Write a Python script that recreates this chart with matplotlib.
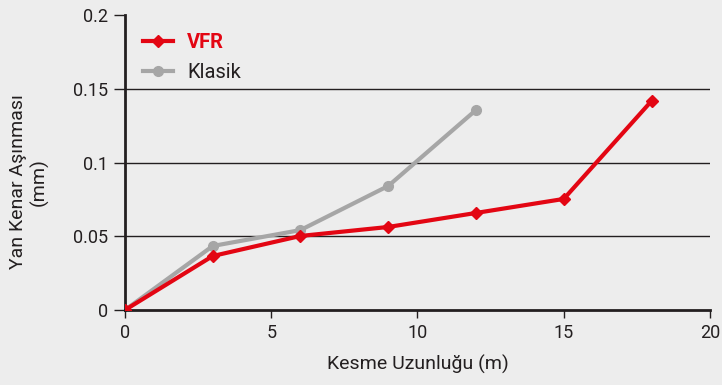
import matplotlib.pyplot as plt

plt.rcParams['font.family'] = ['Roboto', 'DejaVu Sans']

# cutting length (m) and flank wear (mm)
vfr_x = [0, 3, 6, 9, 12, 15, 18]
vfr_y = [0, 0.0366, 0.0502, 0.0563, 0.0658, 0.0753, 0.1417]
klasik_x = [0, 3, 6, 9, 12]
klasik_y = [0, 0.0434, 0.0542, 0.0841, 0.1356]

y_ticks = [0, 0.05, 0.1, 0.15, 0.2]
y_tick_labels = ['0', '0.05', '0.1', '0.15', '0.2']
x_ticks = [0, 5, 10, 15, 20]

bg = '#ededed'
ink = '#231f20'
red = '#e30613'
gray = '#a6a6a6'

fig = plt.figure(figsize=(7.22, 3.85), dpi=100, facecolor=bg)
ax = fig.add_axes([0.1731, 0.1948, 0.8103, 0.7662], facecolor=bg)

for yv in y_ticks[1:-1]:
    ax.axhline(yv, color=ink, lw=1.0, zorder=1)

ax.plot(klasik_x, klasik_y, color=gray, lw=3, marker='o', ms=7,
        label='Klasik', zorder=3)
ax.plot(vfr_x, vfr_y, color=red, lw=3, marker='D', ms=6,
        label='VFR', zorder=4)

ax.set_xlim(0, 20)
ax.set_ylim(0, 0.2)
ax.set_xticks(x_ticks)
ax.set_yticks(y_ticks)
ax.set_yticklabels(y_tick_labels)

for s in ['top', 'right']:
    ax.spines[s].set_visible(False)
for s in ['left', 'bottom']:
    ax.spines[s].set_color(ink)
    ax.spines[s].set_linewidth(2)

ax.tick_params(axis='y', direction='out', length=8, width=1, color=ink,
               labelsize=13, labelcolor=ink, pad=4)
ax.tick_params(axis='x', direction='out', length=6, width=1, color=ink,
               labelsize=13, labelcolor=ink, pad=4)

ax.set_xlabel('Kesme Uzunluğu (m)', fontsize=14, color=ink, labelpad=9)
ax.set_ylabel('Yan Kenar Aşınması\n(mm)', fontsize=14, color=ink,
              linespacing=1.15)
ax.yaxis.set_label_coords(-0.13, 0.434)

handles, labels = ax.get_legend_handles_labels()
leg = ax.legend(handles[::-1], labels[::-1], loc='upper left',
                bbox_to_anchor=(0.0, 1.0), frameon=False, fontsize=14.5,
                handlelength=1.5, handletextpad=0.7, labelspacing=0.55)
leg.get_texts()[0].set_color(red)
leg.get_texts()[0].set_fontweight('bold')
leg.get_texts()[1].set_color(ink)

fig.savefig('out.png', dpi=100, facecolor=bg)
